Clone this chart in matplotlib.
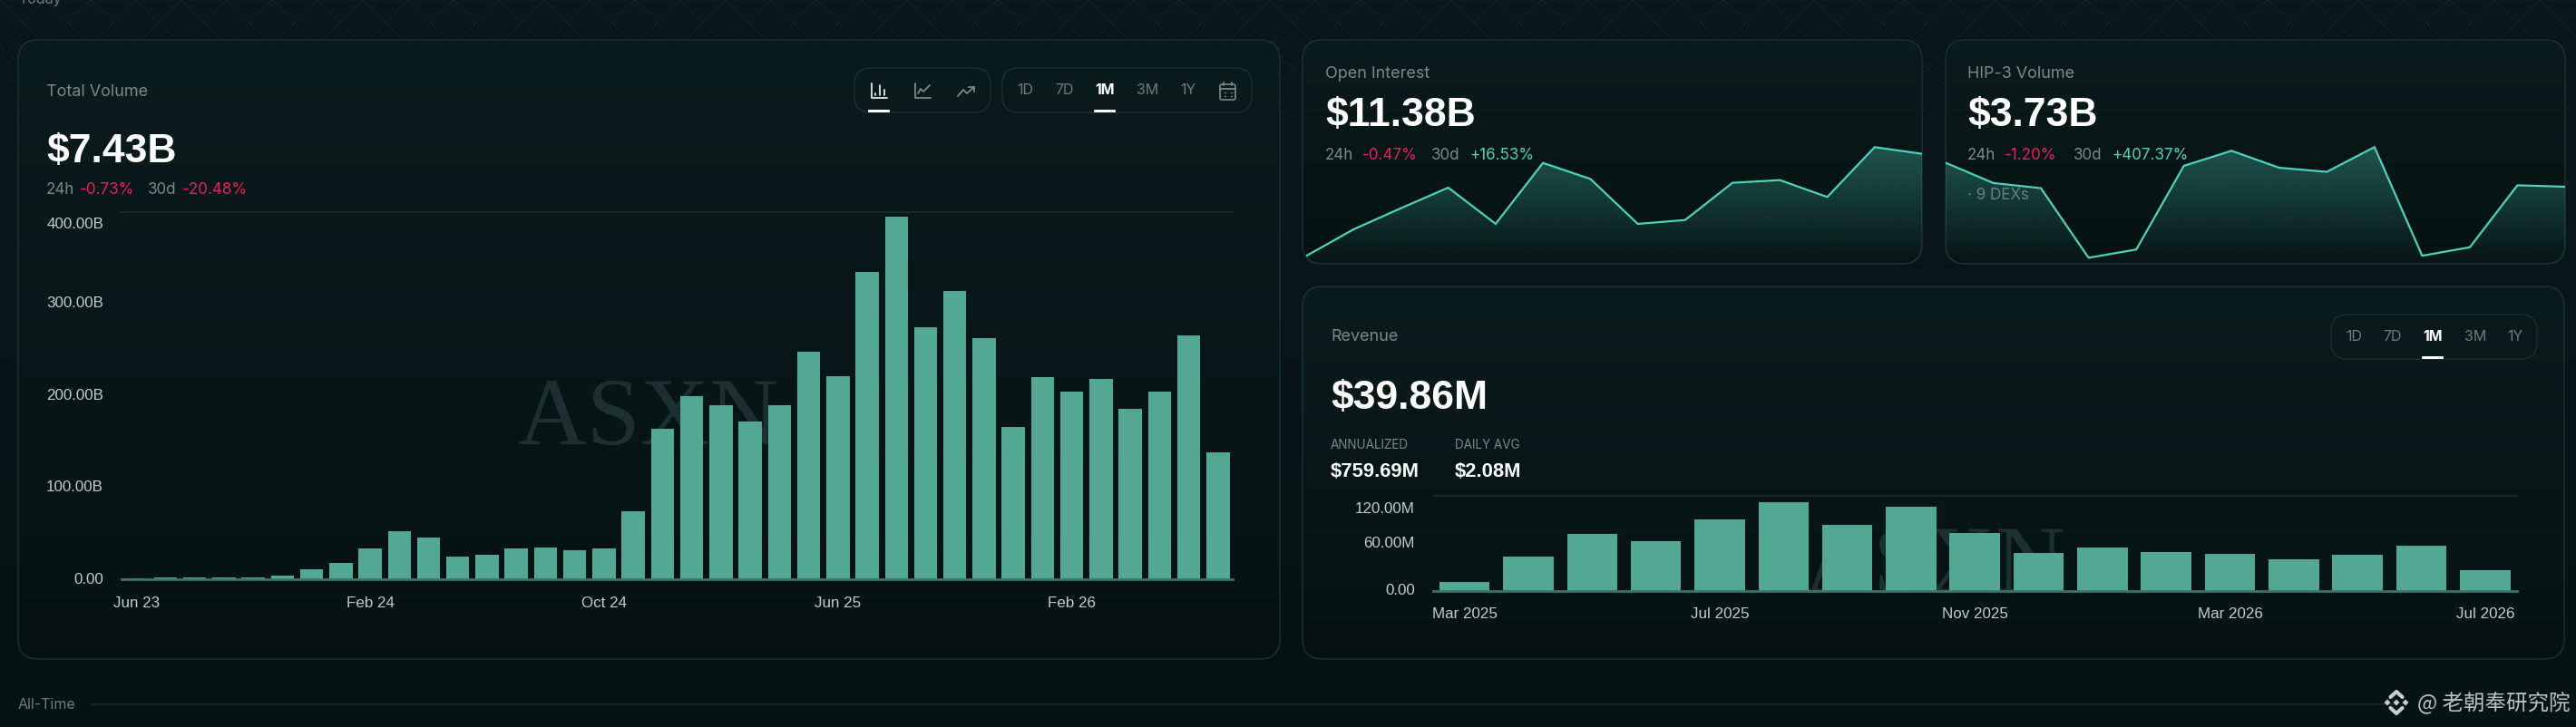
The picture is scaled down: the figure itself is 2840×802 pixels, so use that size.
import numpy as np
import matplotlib
matplotlib.use("Agg")
import matplotlib.pyplot as plt
from matplotlib.patches import FancyBboxPatch, Polygon, Rectangle
from matplotlib.lines import Line2D

# ---------- data ----------
volume_months = ["Jun 23", "Feb 24", "Oct 24", "Jun 25", "Feb 26"]
volume_values = [1.2, 1.5, 2.0, 1.5, 1.7, 4, 10.5, 17.8, 33.9, 52, 45, 25, 26.3, 33.5, 34.5, 32,
                 34, 74, 164, 199, 189, 172, 189, 248, 221, 334, 395, 274, 314, 262, 165.5, 220,
                 204, 218, 185, 204, 265, 138.5]
volume_ticks = [0, 100, 200, 300, 400]
volume_tick_labels = ["0.00", "100.00B", "200.00B", "300.00B", "400.00B"]

revenue_months = ["Mar 2025", "Jul 2025", "Nov 2025", "Mar 2026", "Jul 2026"]
revenue_values = [11.4, 43, 72, 63, 90.7, 111.6, 83, 106, 72.8, 47.6, 54.5, 48.8, 46.5, 39.6,
                  45.3, 57.5, 25.9]
revenue_ticks = [0, 60, 120]
revenue_tick_labels = ["0.00", "60.00M", "120.00M"]

oi_values = [0.81, 3.56, 5.75, 7.88, 4.13, 10.44, 8.78, 4.13, 4.53, 8.38, 8.66, 6.91, 12.07, 11.38]
hip_values = [4.89, 3.91, 3.66, 0.29, 0.69, 4.74, 5.47, 4.65, 4.45, 5.65, 0.39, 0.80, 3.80, 3.73]

# ---------- style ----------
W, H = 2840, 802
plt.rcParams["font.family"] = ["Inter", "DejaVu Sans"]
BAR = "#52a892"
LINE = "#4fd1bc"
BORDER = "#1b2e2d"
BASE = "#3c7467"
GREY = "#7d8887"
TICK = "#c4cbc9"
RED = "#e8215f"
GREEN = "#4fd1bc"
WHITE = "#ffffff"
NUM = "Liberation Sans"


def pt(px):
    return px * 0.72


fig = plt.figure(figsize=(W / 100, H / 100), dpi=100)
bg = fig.add_axes([0, 0, 1, 1], zorder=0)
bg.set_axis_off()


def grad(c0, c1, n=256):
    a, b = np.array(matplotlib.colors.to_rgb(c0)), np.array(matplotlib.colors.to_rgb(c1))
    t = np.linspace(0, 1, n)[:, None, None]
    return a[None, None, :] * (1 - t) + b[None, None, :] * t


# page background
bg.imshow(grad("#0a1a1b", "#051312"), extent=(0, W, H, 0), aspect="auto", zorder=0)

# faint lattice
P = 50
for k in range(-20, 80):
    for s in (1, -1):
        bg.plot([k * P, k * P + s * 400], [0, 400], color="#143a35", lw=1, ls=(0, (1, 1.5)),
                alpha=0.6, zorder=1)
fade = np.zeros((256, 1, 4))
fade[..., :3] = matplotlib.colors.to_rgb("#081718")
fade[..., 3] = np.linspace(0, 1, 256)[:, None]
bg.imshow(fade, extent=(0, W, 260, 20), aspect="auto", zorder=2)
bg.add_patch(Rectangle((0, 260), W, H, color="#071617", zorder=2))
below = grad("#081718", "#051312")
bg.imshow(below, extent=(0, W, H, 260), aspect="auto", zorder=2)


def card(x0, y0, x1, y1, c0="#0b1c1c", c1="#051211", r=22):
    p = FancyBboxPatch((x0, y0), x1 - x0, y1 - y0, boxstyle=f"round,pad=0,rounding_size={r}",
                       fc="none", ec=BORDER, lw=1.2, zorder=4)
    bg.add_patch(p)
    im = bg.imshow(grad(c0, c1), extent=(x0, x1, y1, y0), aspect="auto", zorder=3)
    im.set_clip_path(p)
    return p


card_vol = card(20, 44, 1411, 727)
card_oi = card(1436, 44, 2119, 291)
card_hip = card(2145, 44, 2828, 291)
card_rev = card(1436, 316, 2827, 727)


def T(x, y, s, size, color=GREY, weight="normal", ha="left", va="center", **kw):
    return bg.text(x, y, s, fontsize=pt(size), color=color, fontweight=weight, ha=ha, va=va,
                   zorder=6, **kw)


def box(x0, y0, x1, y1, r=18):
    bg.add_patch(FancyBboxPatch((x0, y0), x1 - x0, y1 - y0, boxstyle=f"round,pad=0,rounding_size={r}",
                                fc="none", ec=BORDER, lw=1.1, zorder=5))


def underline(x0, x1, y0, y1):
    bg.add_patch(FancyBboxPatch((x0, y0), x1 - x0, y1 - y0, boxstyle="round,pad=0,rounding_size=1",
                                fc=WHITE, ec="none", zorder=6))


def stroke(xs, ys, color="#7d8887", lw=1.3):
    bg.add_line(Line2D(xs, ys, color=color, lw=lw, zorder=6, solid_capstyle="round"))


# page labels
T(20, 4, "Today", 16, color="#707c7b", va="baseline")
T(20, 777, "All-Time", 16, color="#707c7b")
stroke([101, 2640], [777, 777], color="#1a2a2a", lw=1.1)

# titles & values
BIG = 44.5
T(51, 101, "Total Volume", 18)
T(51, 167, "$7.43B", BIG, WHITE, "bold", family=NUM)
for x, s, c in [(51, "24h", GREY), (88, "-0.73%", RED), (163, "30d", GREY), (201, "-20.48%", RED)]:
    T(x, 209, s, 17, c)

T(1461, 81, "Open Interest", 18)
T(1461, 128, "$11.38B", BIG, WHITE, "bold", family=NUM)
for x, s, c in [(1461, "24h", GREY), (1502, "-0.47%", RED), (1578, "30d", GREY), (1620, "+16.53%", GREEN)]:
    T(x, 171, s, 17, c)

T(2169, 81, "HIP-3 Volume", 18)
T(2169, 128, "$3.73B", BIG, WHITE, "bold", family=NUM)
for x, s, c in [(2169, "24h", GREY), (2210, "-1.20%", RED), (2286, "30d", GREY), (2328, "+407.37%", GREEN)]:
    T(x, 171, s, 17, c)
T(2169, 216, "· 9 DEXs", 17, "#66716f")

T(1467, 372, "Revenue", 18)
T(1467, 439, "$39.86M", BIG, WHITE, "bold", family=NUM)
T(1467, 491, "ANNUALIZED", 13.5)
T(1604, 491, "DAILY AVG", 13.5)
T(1467, 520, "$759.69M", 22, WHITE, "bold", family=NUM)
T(1604, 520, "$2.08M", 22, WHITE, "bold", family=NUM)

# toggle groups
box(942, 75, 1092, 124)
box(1105, 75, 1380, 124)
for x, s in [(1130, "1D"), (1173, "7D"), (1218, "1M"), (1265, "3M"), (1310, "1Y")]:
    T(x, 100, s, 16, WHITE if s == "1M" else "#6f7b7a", "bold" if s == "1M" else "normal", ha="center")
underline(957, 981, 121, 124)
underline(1206, 1230, 121, 124)
box(2570, 347, 2797, 396)
for x, s in [(2595, "1D"), (2637, "7D"), (2682, "1M"), (2729, "3M"), (2773, "1Y")]:
    T(x, 372, s, 16, WHITE if s == "1M" else "#6f7b7a", "bold" if s == "1M" else "normal", ha="center")
underline(2670, 2694, 393, 396)

# icons
stroke([961, 961, 978], [92, 108, 108], "#e6e9e8")
for x, y in [(965, 103), (970, 94), (975, 99)]:
    stroke([x, x], [y, 105], "#e6e9e8")
stroke([1009, 1009, 1026], [92, 108, 108])
stroke([1012, 1015, 1018, 1025], [103, 98, 101, 94])
stroke([1056, 1062, 1066, 1074], [106, 99, 103, 96])
stroke([1068, 1074, 1074], [96, 96, 101])
bg.add_patch(FancyBboxPatch((1345, 93), 17, 17, boxstyle="round,pad=0,rounding_size=2", fc="none",
                            ec="#7d8887", lw=1.2, zorder=6))
stroke([1345, 1362], [98, 98])
stroke([1349, 1349], [91, 94])
stroke([1358, 1358], [91, 94])
for yy in (102, 106):
    for xx in (1350, 1353.5, 1357):
        stroke([xx, xx + 0.6], [yy, yy], lw=1)

# watermark behind charts
for cx, by in [(715, 490), (2133, 653)]:
    bg.text(cx, by, "ASXN", fontsize=76, family="Liberation Serif", color="#1c302f", ha="center",
            va="baseline", zorder=5)

# binance-like mark and credit
LG = "#c9cecc"
cx, cy = 2642, 775
for dx, dy, r in [(0, 0, 3.5), (-10, 0, 3.5), (10, 0, 3.5)]:
    bg.add_patch(Polygon([(cx + dx - r, cy + dy), (cx + dx, cy + dy - r), (cx + dx + r, cy + dy),
                          (cx + dx, cy + dy + r)], fc=LG, ec="none", zorder=7))
stroke([cx - 6.5, cx, cx + 6.5], [cy - 6, cy - 12, cy - 6], LG, 3)
stroke([cx - 6.5, cx, cx + 6.5], [cy + 6, cy + 12, cy + 6], LG, 3)
bg.text(2665, 775, "@ 老朝奉研究院", fontsize=pt(23.5), color="#bcc2c0", va="center", ha="left", zorder=7,
        family=["Noto Sans CJK SC", "DejaVu Sans"])

bg.set_xlim(0, W)
bg.set_ylim(H, 0)


def px_axes(x0, y_top, x1, y_bot):
    ax = fig.add_axes([x0 / W, 1 - y_bot / H, (x1 - x0) / W, (y_bot - y_top) / H], zorder=2)
    ax.patch.set_alpha(0)
    for s in ax.spines.values():
        s.set_visible(False)
    return ax


def bar_panel(rect, values, ymax, yticks, ylabels, xlabels, step, ylab_x, xlab_dy, top_dy):
    ax = px_axes(*rect)
    n = len(values)
    xs = np.arange(n)
    ax.bar(xs, values, width=0.79, color=BAR, zorder=2)
    ax.set_xlim(-0.5, n - 0.5)
    ax.set_ylim(0, ymax)
    ax.set_xticks([])
    ax.set_yticks([])
    ax.axhline(ymax, color=BORDER, lw=1.2, clip_on=False, zorder=1)
    ax.axhline(0, color=BASE, lw=2, clip_on=False, zorder=3)
    for v, s in zip(yticks, ylabels):
        dy = -top_dy if v == ymax else 0
        ax.annotate(s, xy=(0, v), xycoords=("axes fraction", "data"), xytext=(ylab_x * 0.72, dy * 0.72),
                    textcoords="offset points", ha="right", va="center", fontsize=pt(17), color=TICK,
                    annotation_clip=False, family=NUM)
    for i, s in enumerate(xlabels):
        ax.annotate(s, xy=(i * step, 0), xycoords="data", xytext=(0, -xlab_dy * 0.72),
                    textcoords="offset points", ha="center", va="center", fontsize=pt(17), color=TICK,
                    annotation_clip=False, family=NUM)
    return ax


bar_panel((134, 233.5, 1359, 639), volume_values, 400, volume_ticks, volume_tick_labels, volume_months,
          8, -20, 27, 14)
bar_panel((1579.5, 547, 2775, 652), revenue_values, 120, revenue_ticks, revenue_tick_labels, revenue_months,
          4, -19.5, 26, 14)


def area_panel(x0, x1, values, px_per_unit, clip_card):
    y_top, y_bot = 150, 291
    ax = px_axes(x0, y_top, x1, y_bot)
    ymax = (y_bot - y_top) / px_per_unit
    xs = np.arange(len(values))
    ax.set_xlim(0, len(values) - 1)
    ax.set_ylim(0, ymax)
    ax.set_xticks([])
    ax.set_yticks([])
    rgba = np.zeros((256, 1, 4))
    rgba[..., :3] = matplotlib.colors.to_rgb(LINE)
    rgba[..., 3] = np.linspace(0.36, 0.02, 256)[:, None]
    im = ax.imshow(rgba, extent=(0, len(values) - 1, 0, ymax), aspect="auto", zorder=1, origin="upper")
    poly = Polygon(list(zip(xs, values)) + [(xs[-1], 0), (xs[0], 0)], closed=True, transform=ax.transData,
                   fc="none", ec="none")
    ax.add_patch(poly)
    im.set_clip_path(poly)
    ln, = ax.plot(xs, values, color=LINE, lw=1.6, zorder=2, solid_joinstyle="miter")
    ln.set_clip_path(clip_card)
    ax.set_xlim(0, len(values) - 1)
    ax.set_ylim(0, ymax)


area_panel(1440, 2119, oi_values, 10.66, card_oi)
area_panel(2145, 2828, hip_values, 22.79, card_hip)

fig.savefig("out.png", dpi=100, facecolor="#071617")
